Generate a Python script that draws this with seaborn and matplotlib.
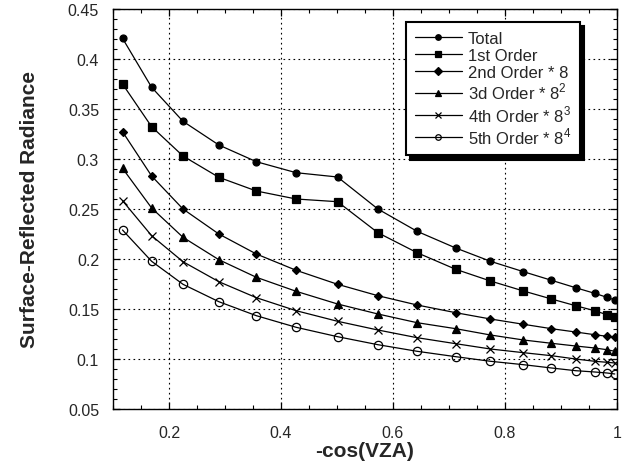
import numpy as np
import pandas as pd
import seaborn as sns
import matplotlib
matplotlib.use("Agg")
import matplotlib.pyplot as plt
from matplotlib.ticker import MultipleLocator

sns.set_style("ticks")
plt.rcParams['font.family'] = ['Liberation Sans', 'DejaVu Sans']
plt.rcParams['mathtext.fontset'] = 'custom'
plt.rcParams['mathtext.rm'] = 'Liberation Sans'

x_vals = [0.117, 0.169, 0.225, 0.289, 0.356, 0.427, 0.501, 0.573, 0.643,
          0.712, 0.774, 0.833, 0.883, 0.926, 0.960, 0.982, 0.996]

total = [0.4207, 0.3717, 0.3377, 0.314, 0.2973, 0.2863, 0.282, 0.250, 0.2277,
         0.211, 0.1977, 0.1873, 0.1787, 0.1713, 0.1657, 0.1617, 0.159]
first = [0.375, 0.3323, 0.303, 0.2817, 0.268, 0.260, 0.2573, 0.2263, 0.2063,
         0.1897, 0.178, 0.168, 0.160, 0.1533, 0.1483, 0.1443, 0.1417]
second = [0.3273, 0.283, 0.250, 0.225, 0.205, 0.1887, 0.1747, 0.1633, 0.154,
          0.1463, 0.140, 0.1347, 0.1303, 0.127, 0.1243, 0.1227, 0.1217]
third = [0.2907, 0.251, 0.2217, 0.1993, 0.1817, 0.1677, 0.155, 0.145, 0.1363,
         0.1303, 0.124, 0.119, 0.1157, 0.113, 0.111, 0.1093, 0.1077]
fourth = [0.2583, 0.2233, 0.1973, 0.1773, 0.1613, 0.1483, 0.1377, 0.129, 0.1213,
          0.1153, 0.110, 0.1063, 0.1033, 0.100, 0.0977, 0.0967, 0.096]
fifth = [0.229, 0.1977, 0.1747, 0.1573, 0.1433, 0.1317, 0.1223, 0.1143, 0.1077,
         0.1023, 0.0977, 0.0943, 0.091, 0.0883, 0.087, 0.086, 0.085]

labels = ["Total", "1st Order", "2nd Order * 8", "3d Order * 8$^2$",
          "4th Order * 8$^3$", "5th Order * 8$^4$"]
series = [total, first, second, third, fourth, fifth]

markers = ['o', 's', 'D', '^', 'x', 'o']
msizes = [5, 6, 4.5, 5.5, 6, 6]
mfcs = ['black', 'black', 'black', 'black', 'black', 'none']

fig = plt.figure(figsize=(6.26, 4.77), dpi=100)
ax = fig.add_axes([0.1805, 0.1405, 0.8051, 0.8385])

for lab, ys, m, ms, fc in zip(labels, series, markers, msizes, mfcs):
    df = pd.DataFrame({'x': x_vals, 'y': ys})
    sns.lineplot(data=df, x='x', y='y', ax=ax, color='black', linewidth=0.9,
                 marker=m, markersize=ms, markerfacecolor=fc,
                 markeredgecolor='black', markeredgewidth=0.9, label=lab)

ax.set_xlim(0.1, 1.0)
ax.set_ylim(0.05, 0.45)
ax.xaxis.set_minor_locator(MultipleLocator(0.05))
ax.yaxis.set_minor_locator(MultipleLocator(0.01))
ax.set_xticks([0.2, 0.4, 0.6, 0.8, 1.0])
ax.set_xticklabels(['0.2', '0.4', '0.6', '0.8', '1'])
ax.set_yticks([0.05, 0.1, 0.15, 0.2, 0.25, 0.3, 0.35, 0.4, 0.45])
ax.set_yticklabels(['0.05', '0.1', '0.15', '0.2', '0.25', '0.3', '0.35', '0.4', '0.45'])
ax.tick_params(which='both', direction='in', top=True, right=True, labelsize=11.5, color='black')
ax.tick_params(which='major', length=5, width=0.9)
ax.tick_params(which='minor', length=3, width=0.8)
ax.tick_params(axis='x', which='major', pad=11.5)
ax.tick_params(axis='y', which='major', pad=10)
ax.grid(True, which='major', linestyle=(0, (1.5, 3)), color='black', linewidth=0.8)
for s in ax.spines.values():
    s.set_color('black')
    s.set_linewidth(1.0)

ax.set_xlabel('-cos(VZA)', fontsize=15, fontweight='bold', labelpad=0.5)
ax.set_ylabel('Surface-Reflected Radiance', fontsize=15, fontweight='bold', labelpad=21)

leg = ax.legend(loc='upper right', bbox_to_anchor=(0.927, 0.9675), borderaxespad=0,
                fontsize=12, frameon=True, fancybox=False, edgecolor='black', framealpha=1,
                handlelength=2.8, handletextpad=0.35, labelspacing=0.1, borderpad=0.55,
                shadow={'color': 'black', 'alpha': 1, 'ox': 3, 'oy': -3})
leg.get_frame().set_linewidth(1.5)
for h in leg.legend_handles:
    h.set_markersize(4)

fig.savefig('out.png', dpi=100)
